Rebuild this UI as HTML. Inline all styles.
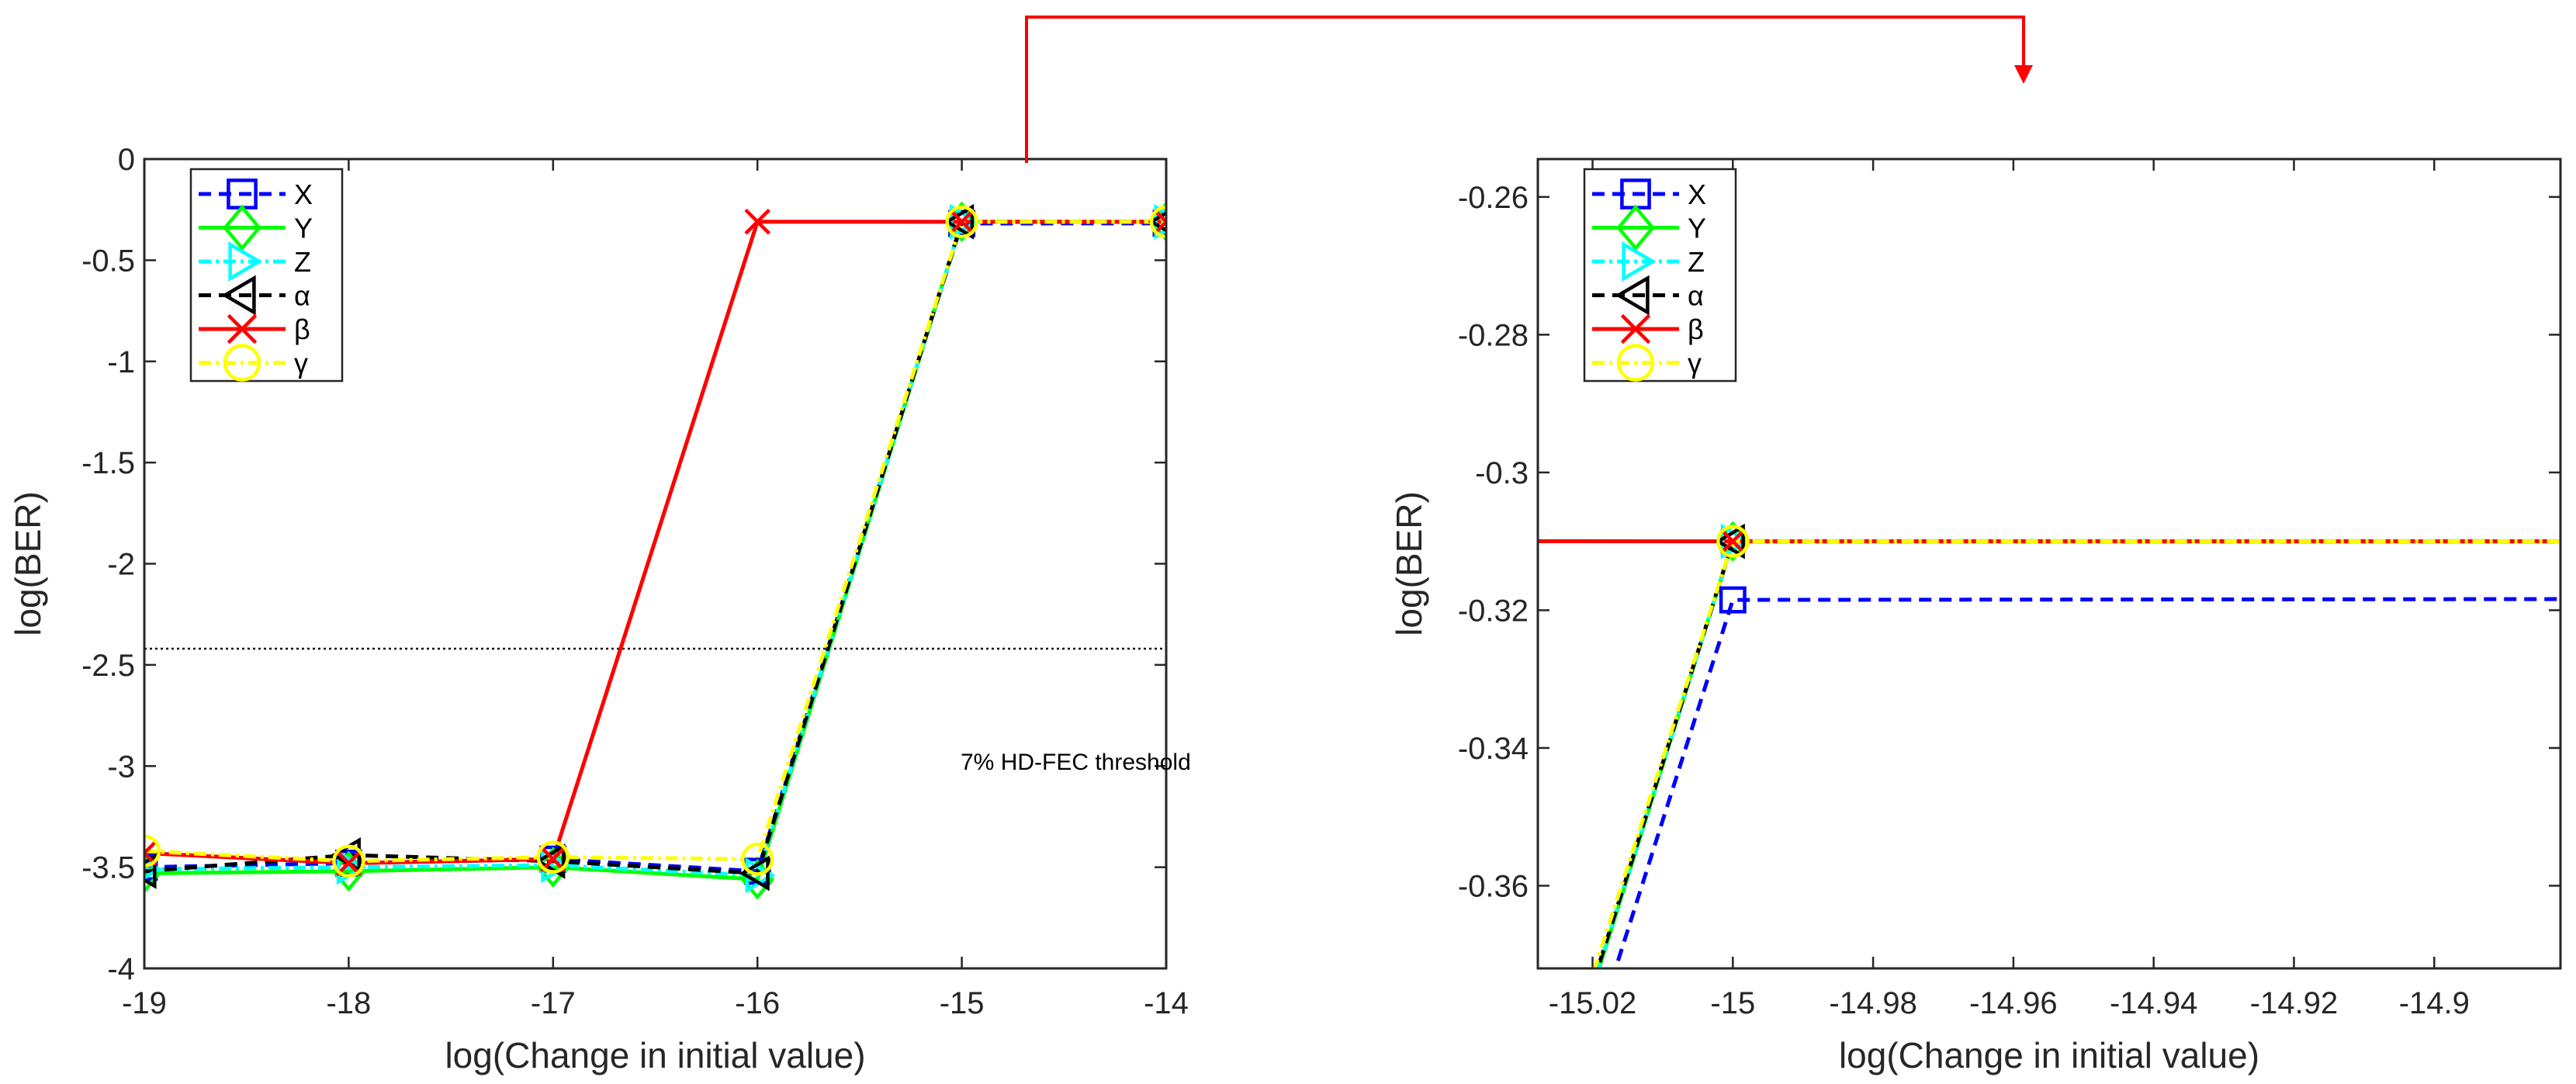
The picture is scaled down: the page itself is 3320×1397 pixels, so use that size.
<!DOCTYPE html>
<html><head><meta charset="utf-8"><style>
html,body{margin:0;padding:0;background:#fff;overflow:hidden;width:3320px;height:1397px;}
svg{display:block;font-family:"Liberation Sans",sans-serif;}
</style></head><body>
<svg id="fig" width="3320" height="1397" viewBox="0 0 3320 1397" xmlns="http://www.w3.org/2000/svg"></svg>
<script>
const xCats = [-19,-18,-17,-16,-15,-14];
const seriesNames = ["X","Y","Z","α","β","γ"];
const valsX = [-3.5,-3.48,-3.46,-3.52,-0.3185,-0.3175];
const valsY = [-3.53,-3.52,-3.5,-3.56,-0.31,-0.31];
const valsZ = [-3.51,-3.5,-3.49,-3.54,-0.31,-0.31];
const valsA = [-3.52,-3.44,-3.47,-3.53,-0.31,-0.31];
const valsB = [-3.43,-3.48,-3.46,-0.3095,-0.31,-0.31];
const valsG = [-3.42,-3.47,-3.45,-3.46,-0.31,-0.31];
const leftXTicks = [-19,-18,-17,-16,-15,-14];
const leftYTicks = [0,-0.5,-1,-1.5,-2,-2.5,-3,-3.5,-4];
const rightXTicks = [-15.02,-15,-14.98,-14.96,-14.94,-14.92,-14.9];
const rightYTicks = [-0.26,-0.28,-0.3,-0.32,-0.34,-0.36];
const thresholdVal = [-2.42];

const NS="http://www.w3.org/2000/svg";
const svg=document.getElementById('fig');
function el(tag,attrs,parent){const e=document.createElementNS(NS,tag);for(const k in attrs)e.setAttribute(k,attrs[k]);(parent||svg).appendChild(e);return e;}
const styles=[
 {c:"#0000ff",d:"16,10",m:"square"},
 {c:"#00ff00",d:"",m:"diamond"},
 {c:"#00ffff",d:"16,6,4,6",m:"tri-right"},
 {c:"#000000",d:"16,10",m:"tri-left"},
 {c:"#ff0000",d:"",m:"x"},
 {c:"#ffff00",d:"16,6,4,6",m:"circle"}];
const allVals=[valsX,valsY,valsZ,valsA,valsB,valsG];
function marker(g,type,x,y,c,s){
 const a={fill:"none",stroke:c,"stroke-width":4.5};
 let e;
 if(type==="square")e=el('rect',Object.assign({x:x-s*0.8,y:y-s*0.8,width:s*1.6,height:s*1.6},a),g);
 else if(type==="diamond")e=el('polygon',Object.assign({points:`${x},${y-s*1.2} ${x+s},${y} ${x},${y+s*1.2} ${x-s},${y}`},a),g);
 else if(type==="tri-right")e=el('polygon',Object.assign({points:`${x+s},${y} ${x-s*0.7},${y-s} ${x-s*0.7},${y+s}`},a),g);
 else if(type==="tri-left")e=el('polygon',Object.assign({points:`${x-s},${y} ${x+s*0.7},${y-s} ${x+s*0.7},${y+s}`},a),g);
 else if(type==="x"){e=el('path',Object.assign({d:`M${x-s*0.8},${y-s*0.8}L${x+s*0.8},${y+s*0.8}M${x-s*0.8},${y+s*0.8}L${x+s*0.8},${y-s*0.8}`},a),g);}
 else e=el('circle',Object.assign({cx:x,cy:y,r:s},a),g);
 
 
}
function panel(id,L,R,T,B,xmin,xmax,ymin,ymax,xt,yt,showThresh,ylx){
 const sx=v=>L+(v-xmin)/(xmax-xmin)*(R-L);
 const sy=v=>T+(ymax-v)/(ymax-ymin)*(B-T);
 const g=el('g',{});
 
 
 const cp=el('clipPath',{id:id+'-clip'},g);
 el('rect',{x:L,y:T,width:R-L,height:B-T},cp);
 xt.forEach(v=>{const x=sx(v);
  el('line',{x1:x,x2:x,y1:B,y2:B-15,stroke:"#262626","stroke-width":2.5},g);
  el('line',{x1:x,x2:x,y1:T,y2:T+15,stroke:"#262626","stroke-width":2.5},g);
  const t=el('text',{x:x,y:B+58,"text-anchor":"middle","font-size":40,fill:"#262626"},g);t.textContent=String(v);
  
  });
 yt.forEach(v=>{const y=sy(v);
  el('line',{x1:L,x2:L+15,y1:y,y2:y,stroke:"#262626","stroke-width":2.5},g);
  el('line',{x1:R,x2:R-15,y1:y,y2:y,stroke:"#262626","stroke-width":2.5},g);
  const t=el('text',{x:L-12,y:y+14,"text-anchor":"end","font-size":40,fill:"#262626"},g);t.textContent=String(v);
  
  });
 const pg=el('g',{"clip-path":`url(#${id}-clip)`},g);
 if(showThresh){const y=sy(thresholdVal[0]);
  const tl=el('line',{x1:L,x2:R,y1:y,y2:y,stroke:"#000","stroke-width":2.5,"stroke-dasharray":"3,4"},pg);
  
  }
 allVals.forEach((vals,i)=>{const st=styles[i];
  const pts=vals.map((v,j)=>sx(xCats[j])+","+sy(v)).join(" ");
  const pl=el('polyline',{points:pts,fill:"none",stroke:st.c,"stroke-width":5,"stroke-dasharray":st.d},pg);
  
  
 });
 allVals.forEach((vals,i)=>{const st=styles[i];
  vals.forEach((v,j)=>marker(pg,st.m,sx(xCats[j]),sy(v),st.c,19));});
 el('rect',{x:L,y:T,width:R-L,height:B-T,fill:"none",stroke:"#262626","stroke-width":3},g);
 const xl=el('text',{x:(L+R)/2,y:B+128,"text-anchor":"middle","font-size":46,fill:"#262626"},g);xl.textContent="log(Change in initial value)";
 
 
 const yl=el('text',{transform:`translate(${ylx},${(T+B)/2}) rotate(-90)`,"text-anchor":"middle","font-size":46,fill:"#262626"},g);yl.textContent="log(BER)";
 
 
 const lx=L+60,ly=T+13,lw=195,lh=273;
 const lg=el('g',{},g);
 
 
 el('rect',{x:lx,y:ly,width:lw,height:lh,fill:"#fff",stroke:"#262626","stroke-width":2.5},lg);
 seriesNames.forEach((n,i)=>{const st=styles[i];const y=ly+32+i*43.5;
  const ent=el('g',{},lg);
  
  
  el('line',{x1:lx+10,x2:lx+122,y1:y,y2:y,stroke:st.c,"stroke-width":5,"stroke-dasharray":st.d},ent);
  marker(ent,st.m,lx+66,y,st.c,22);
  const t=el('text',{x:lx+133,y:y+13,"font-size":36,fill:"#000"},ent);t.textContent=n;});
 return {sx,sy};
}
panel('left-panel',186,1503,205,1248,-19,-14,-4,0,leftXTicks,leftYTicks,true,52);
panel('right-panel',1982,3300,205,1248,-15.0278,-14.882,-0.372,-0.2545,rightXTicks,rightYTicks,false,1832);
const ft=el('text',{x:1238,y:992,"font-size":30,fill:"#000"});ft.textContent="7% HD-FEC threshold";


const ar=el('polyline',{points:"1323,210 1323,22 2608,22 2608,90",fill:"none",stroke:"#ff0000","stroke-width":4});


const ah=el('polygon',{points:"2596,84 2620,84 2608,108",fill:"#ff0000"});


</script>
</body></html>
